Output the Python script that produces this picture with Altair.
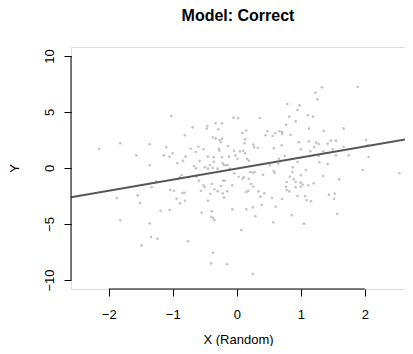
import altair as alt
import pandas as pd

# Scatter points (X random, Y)
x_vals = [
    -1.02, -2.15, -1.82, -1.57, -1.36, -1.10, -1.14, -1.05, -1.00, -0.81,
    -0.69, -0.93, -0.84, -0.80, -0.72, -0.64, -0.60, -0.52, -0.47, -0.46,
    -0.33, -0.23, -0.29, -0.37, -0.33, -0.27, -0.23, -0.25, -0.14, -0.28,
    -0.27, -0.05, 0.02, -0.45, -0.36, -0.23, -0.12, -0.02, 0.05, -1.36,
    -0.67, -0.64, -0.50, -0.45, -0.375, -0.30, -0.22, -0.17, -0.04, 0.03,
    -1.26, -1.33, -1.55, -1.875, -1.51, -1.04, -0.98, -0.89, -0.86, -0.75,
    -0.63, -0.59, -0.56, -0.82, -0.85, -0.94, -0.89, -0.81, -0.52, -0.50,
    -0.39, -0.45, -0.41, -0.35, -0.30, -0.25, -0.21, -0.19, -0.22, -0.20,
    -0.15, -0.07, -0.07, -0.39, -0.55, -0.40, -0.37, -0.35, -1.82, -1.19,
    -1.05, -1.36, -1.34, -1.24, -1.49, -0.76, -0.37, -0.40, -0.15, -0.36,
    -0.42, -0.58, -0.20, -0.14,
    1.33, 1.89, 1.23, 1.26, 0.79, 0.98, 0.95, 1.11, 1.19, 0.82,
    0.92, 0.36, 0.77, 1.13, 1.67, 1.36, 0.15, 0.09, 0.48, 0.45,
    0.56, 0.60, 0.67, 0.71, 0.71, 0.84, 0.13, 0.12, 0.26, 0.33,
    0.27, 0.58, 0.70, 1.00, 1.13, 1.21, 1.24, 1.28, 1.47, 1.55,
    1.42, 1.67, 2.02, 2.05, -0.04, 0.10, 0.13, 0.01, 0.16, 0.19,
    1.15, 1.28, 1.35, 1.42, 1.50, 1.55, 1.75, 2.06, 0.66, 0.75,
    0.52, 0.58, 0.59, 0.95, 1.08, 0.875, 0.87, 0.83, 0.89, 0.92,
    1.00, 1.00, 1.03, 0.78, 0.77, 0.78, 0.82, 0.92, 1.00, 1.12,
    1.20, 1.35, 1.60, 1.97, 2.54, -0.11, 0.09, 0.11, 0.19, 0.21,
    0.25, 0.28, 0.41, 0.22, 0.26, 0.15, 0.18, 0.34, 0.37, 0.43,
    0.55, 0.71, 0.61, 0.39, 0.25, 0.15, 0.29, 0.57, 0.86, 1.05,
    0.95, 1.07, 1.09, 1.16, 1.44, 1.53, 1.52, 1.57, 0.07, 0.25,
    0.97, 0.65, 1.29,
]
y_vals = [
    4.64, 1.72, 2.21, 1.13, 2.12, 1.85, 1.13, 1.01, 1.31, 2.92,
    3.63, 0.42, 0.65, 1.01, 1.72, 1.43, 1.90, 1.67, 3.51, 3.75,
    3.99, 3.99, 3.46, 2.74, 2.62, 2.50, 2.62, 2.32, 1.96, 1.72,
    1.54, 4.49, 4.44, 1.01, 0.96, 0.96, 1.01, 1.13, 1.49, 0.24,
    0.18, -0.03, 0.06, -0.06, 0.00, -0.06, 0.42, 0.24, -0.47, -0.78,
    -1.19, -1.72, -2.44, -2.68, -3.13, -1.96, -2.03, -0.83, -0.65, -0.83,
    -0.78, -1.13, -2.03, -2.21, -2.23, -2.74, -3.15, -2.92, -1.54, -1.72,
    -1.43, -2.92, -2.32, -1.90, -2.08, -1.61, -1.13, -1.13, -2.26, -2.62,
    -2.08, -1.54, -3.69, -3.87, -3.99, -4.35, -4.46, -4.64, -4.67, -3.81,
    -3.75, -4.94, -6.16, -6.31, -6.90, -6.54, -7.56, -8.51, -8.60, 0.56,
    0.27, 0.63, 0.27, 0.27,
    7.21, 7.23, 6.72, 6.13, 5.71, 5.60, 5.18, 4.71, 4.58, 4.58,
    4.17, 4.46, 3.87, 3.51, 3.51, 3.30, 3.33, 3.13, 3.28, 2.92,
    2.86, 3.10, 3.28, 3.21, 3.04, 2.97, 2.56, 2.21, 2.08, 1.81,
    1.85, 1.76, 2.03, 1.67, 2.38, 1.85, 2.26, 2.14, 2.44, 2.44,
    2.17, 1.90, 2.50, 2.05, 1.54, 1.54, 1.31, 0.83, 0.83, 0.65,
    1.49, 1.07, 1.49, 0.36, 1.67, 1.13, 1.13, 0.98, 0.83, 1.07,
    0.24, -0.29, -0.42, 0.54, -0.18, 0.06, -0.36, -0.78, -1.01, -1.25,
    -0.65, -1.31, -1.49, -1.25, -1.67, -1.96, -2.08, -1.72, -1.67, -1.54,
    -1.37, -0.71, -1.01, -0.18, -0.47, -0.06, -0.96, -0.83, -0.96, -0.36,
    -0.42, -0.36, -0.60, -1.43, -1.67, -2.14, -2.03, -2.08, -2.56, -2.26,
    -2.68, -2.77, -3.46, -3.28, -3.51, -3.69, -4.31, -4.85, -4.20, -4.97,
    -2.50, -2.50, -2.86, -2.97, -2.38, -2.29, -2.74, -4.08, -5.54, -9.46,
    2.29, 0.38, 0.51,
]

# Fitted regression line (endpoints at plot edges)
line_x = [-2.59, 2.63]
line_y = [-2.61, 2.55]

# Axis ticks
x_ticks = [-2, -1, 0, 1, 2]
y_ticks = [-10, -5, 0, 5, 10]
x_domain = [-2.59, 2.629]
y_domain = [-10.8, 10.8]

FONT = "Liberation Sans"

pts = pd.DataFrame({"x": x_vals, "y": y_vals})
fit = pd.DataFrame({"x": line_x, "y": line_y})
xaxis_df = pd.DataFrame({"x": [x_ticks[0]], "x2": [x_ticks[-1]], "y": [y_domain[0]]})
yaxis_df = pd.DataFrame({"x": [x_domain[0]], "y": [y_ticks[0]], "y2": [y_ticks[-1]]})

xs = alt.Scale(domain=x_domain, nice=False, zero=False)
ys = alt.Scale(domain=y_domain, nice=False, zero=False)

x_axis = alt.Axis(
    values=x_ticks, format="d", domain=False, grid=False, tickSize=7,
    tickColor="black", tickWidth=1, labelFont=FONT, labelFontSize=13,
    labelColor="black", labelBaseline="alphabetic", labelPadding=22,
    title="X (Random)", titleFont=FONT, titleFontSize=13,
    titleFontWeight="normal", titleColor="black", titleBaseline="alphabetic",
    titleY=54,
)
y_axis = alt.Axis(
    values=y_ticks, format="d", domain=False, grid=False, tickSize=7,
    tickColor="black", tickWidth=1, labelFont=FONT, labelFontSize=13,
    labelColor="black", labelAngle=270, labelAlign="center",
    labelBaseline="alphabetic", labelPadding=11, title="Y", titleFont=FONT,
    titleFontSize=13, titleFontWeight="normal", titleColor="black",
    titleAngle=270, titleAlign="center", titleBaseline="alphabetic",
    titleX=-53, titleY=121,
)

points = alt.Chart(pts).mark_circle(size=7, color="#c4c4c4", opacity=1).encode(
    x=alt.X("x:Q", scale=xs, axis=x_axis),
    y=alt.Y("y:Q", scale=ys, axis=y_axis),
)

line = alt.Chart(fit).mark_line(color="#575757", strokeWidth=2, clip=True).encode(
    x=alt.X("x:Q", scale=xs), y=alt.Y("y:Q", scale=ys)
)

xrule = alt.Chart(xaxis_df).mark_rule(color="black", strokeWidth=1).encode(
    x=alt.X("x:Q", scale=xs), x2="x2:Q", y=alt.Y("y:Q", scale=ys)
)
yrule = alt.Chart(yaxis_df).mark_rule(color="black", strokeWidth=1).encode(
    x=alt.X("x:Q", scale=xs), y=alt.Y("y:Q", scale=ys), y2="y2:Q"
)

chart = alt.layer(points, line, xrule, yrule).properties(
    width=334,
    height=242,
    autosize=alt.AutoSizeParams(type="none"),
    padding={"left": 63, "top": 39, "right": 0, "bottom": 57},
    title=alt.TitleParams(
        "Model: Correct", font=FONT, fontSize=16, fontWeight="bold",
        color="black", anchor="middle", baseline="alphabetic", offset=10,
    ),
).configure_view(stroke=None).configure(background="white")

chart.save("out.html", embed_options={"renderer": "svg", "actions": False})
